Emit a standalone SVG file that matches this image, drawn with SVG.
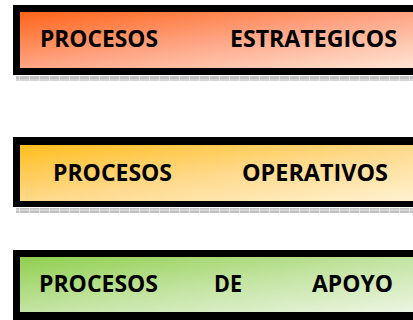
<svg xmlns="http://www.w3.org/2000/svg" width="413" height="320" viewBox="0 0 413 320">
<defs>
<linearGradient id="g1" x1="0" y1="0" x2="1" y2="1">
<stop offset="0" stop-color="#FF6418"/><stop offset="0.5" stop-color="#FFA585"/><stop offset="1" stop-color="#FFE6D6"/>
</linearGradient>
<linearGradient id="g2" x1="0" y1="0" x2="1" y2="1">
<stop offset="0" stop-color="#FFBE1E"/><stop offset="0.5" stop-color="#FFD98A"/><stop offset="1" stop-color="#FFF2D2"/>
</linearGradient>
<linearGradient id="g3" x1="0" y1="0" x2="1" y2="1">
<stop offset="0" stop-color="#90CF4E"/><stop offset="0.5" stop-color="#C3E4A2"/><stop offset="1" stop-color="#EDF6E4"/>
</linearGradient>
<pattern id="dots" width="10" height="5" patternUnits="userSpaceOnUse">
<rect width="10" height="5" fill="#D4D4D4"/>
<rect x="0" y="1" width="9" height="3" fill="#C2C2C2"/>
<rect x="9" y="0" width="1" height="5" fill="#E6E6E6"/>
</pattern>
</defs>
<style>
.outer{fill:#000}
.lbl{font-family:"Open Sans","Liberation Sans",sans-serif;font-weight:bold;font-size:22.5px;fill:#000}
.strip{fill:url(#dots)}
</style>
<rect width="413" height="320" fill="#fff"/>
<g id="estrategicos">
<rect class="strip" x="16" y="76" width="397" height="5"/>
<rect class="outer" x="13" y="5" width="410" height="70"/>
<rect x="20" y="12" width="403" height="56" fill="url(#g1)"/>
<text class="lbl" x="40" y="46.5" textLength="118" lengthAdjust="spacingAndGlyphs">PROCESOS</text>
<text class="lbl" x="230" y="46.5" textLength="167" lengthAdjust="spacingAndGlyphs">ESTRATEGICOS</text>
</g>
<g id="operativos">
<rect class="strip" x="16" y="208" width="397" height="5"/>
<rect class="outer" x="13" y="137" width="410" height="70"/>
<rect x="20" y="145" width="403" height="56" fill="url(#g2)"/>
<text class="lbl" x="53" y="180.5" textLength="119" lengthAdjust="spacingAndGlyphs">PROCESOS</text>
<text class="lbl" x="242" y="180.5" textLength="146" lengthAdjust="spacingAndGlyphs">OPERATIVOS</text>
</g>
<g id="apoyo">
<rect class="outer" x="13" y="250" width="410" height="75"/>
<rect x="20" y="257" width="403" height="55" fill="url(#g3)"/>
<text class="lbl" x="39" y="291.5" textLength="119" lengthAdjust="spacingAndGlyphs">PROCESOS</text>
<text class="lbl" x="214" y="291.5" textLength="28" lengthAdjust="spacingAndGlyphs">DE</text>
<text class="lbl" x="312" y="291.5" textLength="81" lengthAdjust="spacingAndGlyphs">APOYO</text>
</g>
</svg>
